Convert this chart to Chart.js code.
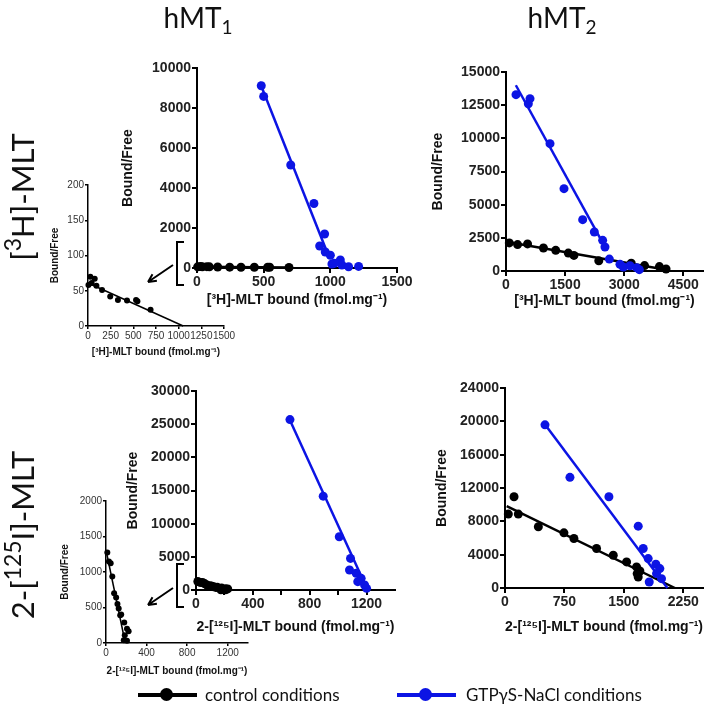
<!DOCTYPE html>
<html>
<head>
<meta charset="utf-8">
<title>Scatchard plots hMT1 / hMT2</title>
<script src="https://cdn.jsdelivr.net/npm/chart.js@4.4.1/dist/chart.umd.min.js"></script>
<style>
  body { margin: 0; background: #fff; }
  #fig { position: relative; width: 710px; height: 717px; overflow: hidden; font-family: Lato, "Open Sans", sans-serif; color: #111; }
  #fig canvas { position: absolute; left: 0; top: 0; }
  .head { position: absolute; font-size: 28px; line-height: 28px; width: 120px; text-align: center; }
  .row { position: absolute; font-size: 31px; line-height: 34px; width: 240px; height: 34px; text-align: center; transform: rotate(-90deg); white-space: nowrap; }
  .head sub { font-size: 0.68em; vertical-align: -0.3em; line-height: 0; }
  .row sup { font-size: 0.74em; vertical-align: 0.55em; line-height: 0; }
  .leg { position: absolute; font-size: 17px; line-height: 20px; white-space: nowrap; }
  .legline { position: absolute; height: 4px; }
  .legdot { position: absolute; width: 13px; height: 13px; border-radius: 50%; }
</style>
</head>
<body>
<div id="fig">
  <canvas id="insetA" width="710" height="717"></canvas>
  <canvas id="mainA" width="710" height="717"></canvas>
  <canvas id="mainB" width="710" height="717"></canvas>
  <canvas id="insetC" width="710" height="717"></canvas>
  <canvas id="mainC" width="710" height="717"></canvas>
  <canvas id="mainD" width="710" height="717"></canvas>

  <div class="head" style="left:138px;top:3px">hMT<sub>1</sub></div>
  <div class="head" style="left:502px;top:3px">hMT<sub>2</sub></div>
  <div class="row" style="left:-98px;top:180px">[<sup>3</sup>H]-MLT</div>
  <div class="row" style="left:-98px;top:518px">2-[<sup>125</sup>I]-MLT</div>

  <div class="legline" style="left:138px;top:693px;width:59px;background:#000"></div>
  <div class="legdot" style="left:160px;top:688px;background:#000"></div>
  <div class="leg" style="left:205px;top:685px">control conditions</div>
  <div class="legline" style="left:397px;top:693px;width:59px;background:rgb(12,20,228)"></div>
  <div class="legdot" style="left:419px;top:688px;background:rgb(12,20,228)"></div>
  <div class="leg" style="left:466px;top:685px">GTPγS-NaCl conditions</div>
</div>
<script>
// ---- hMT1, [3H]-MLT ----
const a_ctrlX = [5, 26, 40, 74, 93, 155, 245, 330, 430, 530, 545, 690];
const a_ctrlY = [58, 70, 61, 67, 57, 51, 42, 37, 36, 37, 35, 23];
const a_ctrlFitX = [0, 1050];
const a_ctrlFitY = [61, 0];
const a_ctrlSpanX = [0, 700];
const a_ctrlSpanY = [61, 20];
const a_gtpX = [482, 500, 703, 877, 957, 920, 962, 1000, 1012, 1075, 1087, 1137, 1212, 1030];
const a_gtpY = [9114, 8579, 5150, 3227, 1700, 1100, 800, 640, 200, 400, 150, 60, 80, 240];
const a_gtpFitX = [470, 975];
const a_gtpFitY = [9300, 800];
const a_xTicks = [0, 500, 1000, 1500];
const a_yTicks = [0, 2000, 4000, 6000, 8000, 10000];
const aIn_xTicks = [0, 250, 500, 750, 1000, 1250, 1500];
const aIn_yTicks = [0, 50, 100, 150, 200];

// ---- hMT2, [3H]-MLT ----
const b_ctrlX = [84, 294, 547, 950, 1262, 1581, 1724, 2355, 3179, 3516, 3894, 4062];
const b_ctrlY = [2117, 1990, 2041, 1735, 1556, 1352, 1173, 765, 587, 408, 332, 153];
const b_ctrlFitX = [0, 4100];
const b_ctrlFitY = [2200, 80];
const b_gtpX = [254, 567, 609, 1117, 1472, 1946, 2242, 2453, 2512, 2623, 2893, 2978, 3147, 3316, 3384];
const b_gtpY = [13291, 12600, 12990, 9598, 6206, 3869, 2940, 2311, 1809, 900, 500, 300, 400, 250, 100];
const b_gtpFitX = [250, 2560];
const b_gtpFitY = [14000, 1550];
const b_xTicks = [0, 1500, 3000, 4500];
const b_yTicks = [0, 2500, 5000, 7500, 10000, 12500, 15000];

// ---- hMT1, 2-[125I]-MLT ----
const c_ctrlX = [13, 29, 46, 62, 80, 100, 113, 125, 140, 150, 180, 207, 223, 185, 175, 207];
const c_ctrlY = [1274, 1148, 1124, 937, 700, 640, 548, 486, 390, 400, 290, 200, 167, 110, 40, 30];
const c_ctrlFitX = [0, 190];
const c_ctrlFitY = [1310, 0];
const c_gtpX = [661, 895, 1008, 1087, 1080, 1127, 1162, 1138, 1186, 1200];
const c_gtpY = [25690, 14150, 8028, 4767, 3016, 2514, 1760, 1256, 754, 250];
const c_gtpFitX = [661, 1205];
const c_gtpFitY = [25600, 100];
const c_xTicks = [0, 200, 400, 600, 800, 1000, 1200];
const c_xLabels = [0, 400, 800, 1200];
const c_yTicks = [0, 5000, 10000, 15000, 20000, 25000, 30000];
const cIn_xTicks = [0, 400, 800, 1200];
const cIn_yTicks = [0, 500, 1000, 1500, 2000];

// ---- hMT2, 2-[125I]-MLT ----
const d_ctrlX = [42, 114, 168, 421, 744, 870, 1156, 1367, 1535, 1661, 1669, 1682, 1703];
const d_ctrlY = [8868, 10955, 8868, 7344, 6621, 5939, 4735, 3933, 3130, 2528, 1726, 1324, 2046];
const d_ctrlFitX = [21, 2145];
const d_ctrlFitY = [9831, 0];
const d_gtpX = [505, 820, 1312, 1682, 1745, 1808, 1821, 1905, 1955, 1976, 1913];
const d_gtpY = [19583, 13283, 10955, 7424, 4735, 3531, 722, 2849, 2327, 1124, 1726];
const d_gtpFitX = [484, 2050];
const d_gtpFitY = [19900, 0];
const d_xTicks = [0, 750, 1500, 2250];
const d_yTicks = [0, 4000, 8000, 12000, 16000, 20000, 24000];

const BLACK = '#000';
const BLUE = 'rgb(12,20,228)';
const H3_TITLE = '[³H]-MLT bound (fmol.mg⁻¹)';
const I125_TITLE = '2-[¹²⁵I]-MLT bound (fmol.mg⁻¹)';

Chart.defaults.font.family = '"Liberation Sans", Arial, sans-serif';

const MAIN = {
    tick: 5, axis: 2, pr: 4.5, lw: 2.5, tickColor: '#222',
    tickFont: { size: 14, weight: 'bold' },
    titleFont: { size: 14, weight: 'bold' }
};
const INSET = {
    tick: 3, axis: 1.5, pr: 3, lw: 1.5, tickColor: '#333',
    tickFont: { size: 10 },
    titleFont: { size: 10, weight: 'bold' }
};

function pts(xs, ys) {
    return xs.map((x, i) => ({ x: x, y: ys[i] }));
}

function dots(xs, ys, color, st) {
    return { data: pts(xs, ys), showLine: false, pointRadius: st.pr, pointHoverRadius: st.pr,
             backgroundColor: color, borderColor: color, borderWidth: 0, clip: false };
}

function fit(xs, ys, color, st) {
    return { data: pts(xs, ys), showLine: true, pointRadius: 0, borderColor: color,
             borderWidth: st.lw, fill: false, clip: false };
}

// bracket + arrow pointing at the zoomed inset
function bracketArrow(y0, y1, ay) {
    return {
        id: 'bracketArrow',
        afterDraw(chart) {
            const c = chart.ctx;
            c.save();
            c.strokeStyle = '#000';
            c.lineWidth = 2;
            c.beginPath();
            c.moveTo(184, y0); c.lineTo(177, y0); c.lineTo(177, y1); c.lineTo(184, y1);
            c.stroke();
            const x0 = 173, x1 = 148, y2 = ay + 17;
            c.beginPath();
            c.moveTo(x0, ay); c.lineTo(x1, y2);
            const ang = Math.atan2(y2 - ay, x1 - x0);
            c.moveTo(x1, y2); c.lineTo(x1 - 9 * Math.cos(ang - 0.45), y2 - 9 * Math.sin(ang - 0.45));
            c.moveTo(x1, y2); c.lineTo(x1 - 9 * Math.cos(ang + 0.45), y2 - 9 * Math.sin(ang + 0.45));
            c.stroke();
            c.restore();
        }
    };
}

function makePanel(id, p) {
    const st = p.style;
    const half = st.titleFont.size * 0.6;
    const yw = p.l - p.yTitleX + half;
    const xh = p.xTitleY - p.b + half;
    const axis = (ticks, max, title, isX) => ({
        type: 'linear', min: 0, max: max,
        afterBuildTicks: s => { s.ticks = ticks.map(v => ({ value: v })); },
        afterFit: s => {
            if (isX) { s.height = xh; s.paddingLeft = 0; s.paddingRight = 0; }
            else { s.width = yw; s.paddingTop = 0; s.paddingBottom = 0; }
        },
        grid: { display: true, drawOnChartArea: false, drawTicks: true, tickLength: st.tick,
                color: '#000', lineWidth: st.axis },
        border: { display: true, color: '#000', width: st.axis },
        ticks: {
            autoSkip: false, maxRotation: 0, padding: 1, color: st.tickColor, font: st.tickFont,
            callback: v => (isX && p.xLabels && !p.xLabels.includes(v)) ? '' : String(v)
        },
        title: { display: true, text: title, color: '#111', font: st.titleFont, padding: 0 }
    });
    return new Chart(document.getElementById(id), {
        type: 'scatter',
        data: { datasets: p.sets },
        options: {
            responsive: false, animation: false, devicePixelRatio: 1, events: [],
            layout: { padding: { left: p.l - yw, top: p.t, right: 710 - p.r, bottom: 717 - p.b - xh } },
            plugins: { legend: { display: false }, tooltip: { enabled: false } },
            scales: {
                x: axis(p.xTicks, p.xMax, p.xTitle, true),
                y: axis(p.yTicks, p.yMax, p.yTitle, false)
            }
        },
        plugins: p.deco ? [p.deco] : []
    });
}

makePanel('insetA', {
    style: INSET, l: 88, t: 185, r: 224, b: 326, yTitleX: 55, xTitleY: 352,
    xMax: 1500, yMax: 200, xTicks: aIn_xTicks, yTicks: aIn_yTicks,
    xTitle: H3_TITLE, yTitle: 'Bound/Free',
    sets: [dots(a_ctrlX, a_ctrlY, BLACK, INSET), fit(a_ctrlFitX, a_ctrlFitY, BLACK, INSET)]
});

makePanel('mainA', {
    style: MAIN, l: 197, t: 68, r: 397, b: 268, yTitleX: 128, xTitleY: 300,
    xMax: 1500, yMax: 10000, xTicks: a_xTicks, yTicks: a_yTicks,
    xTitle: H3_TITLE, yTitle: 'Bound/Free',
    sets: [dots(a_gtpX, a_gtpY, BLUE, MAIN), fit(a_gtpFitX, a_gtpFitY, BLUE, MAIN),
           dots(a_ctrlX, a_ctrlY, BLACK, MAIN), fit(a_ctrlSpanX, a_ctrlSpanY, BLACK, MAIN)],
    deco: bracketArrow(242, 285, 265)
});

makePanel('mainB', {
    style: MAIN, l: 506, t: 72, r: 703, b: 271, yTitleX: 438, xTitleY: 301,
    xMax: 5000, yMax: 15000, xTicks: b_xTicks, yTicks: b_yTicks,
    xTitle: H3_TITLE, yTitle: 'Bound/Free',
    sets: [dots(b_gtpX, b_gtpY, BLUE, MAIN), fit(b_gtpFitX, b_gtpFitY, BLUE, MAIN),
           dots(b_ctrlX, b_ctrlY, BLACK, MAIN), fit(b_ctrlFitX, b_ctrlFitY, BLACK, MAIN)]
});

makePanel('insetC', {
    style: INSET, l: 106, t: 501, r: 248, b: 643, yTitleX: 65, xTitleY: 671,
    xMax: 1400, yMax: 2000, xTicks: cIn_xTicks, yTicks: cIn_yTicks,
    xTitle: I125_TITLE, yTitle: 'Bound/Free',
    sets: [dots(c_ctrlX, c_ctrlY, BLACK, INSET), fit(c_ctrlFitX, c_ctrlFitY, BLACK, INSET)]
});

makePanel('mainC', {
    style: MAIN, l: 196, t: 391, r: 395, b: 590, yTitleX: 133, xTitleY: 627,
    xMax: 1400, yMax: 30000, xTicks: c_xTicks, xLabels: c_xLabels, yTicks: c_yTicks,
    xTitle: I125_TITLE, yTitle: 'Bound/Free',
    sets: [dots(c_gtpX, c_gtpY, BLUE, MAIN), fit(c_gtpFitX, c_gtpFitY, BLUE, MAIN),
           dots(c_ctrlX, c_ctrlY, BLACK, MAIN), fit(c_ctrlFitX, c_ctrlFitY, BLACK, MAIN)],
    deco: bracketArrow(564, 607, 588)
});

makePanel('mainD', {
    style: MAIN, l: 505, t: 388, r: 703, b: 588, yTitleX: 442, xTitleY: 627,
    xMax: 2500, yMax: 24000, xTicks: d_xTicks, yTicks: d_yTicks,
    xTitle: I125_TITLE, yTitle: 'Bound/Free',
    sets: [dots(d_gtpX, d_gtpY, BLUE, MAIN), fit(d_gtpFitX, d_gtpFitY, BLUE, MAIN),
           dots(d_ctrlX, d_ctrlY, BLACK, MAIN), fit(d_ctrlFitX, d_ctrlFitY, BLACK, MAIN)]
});
</script>
</body>
</html>
